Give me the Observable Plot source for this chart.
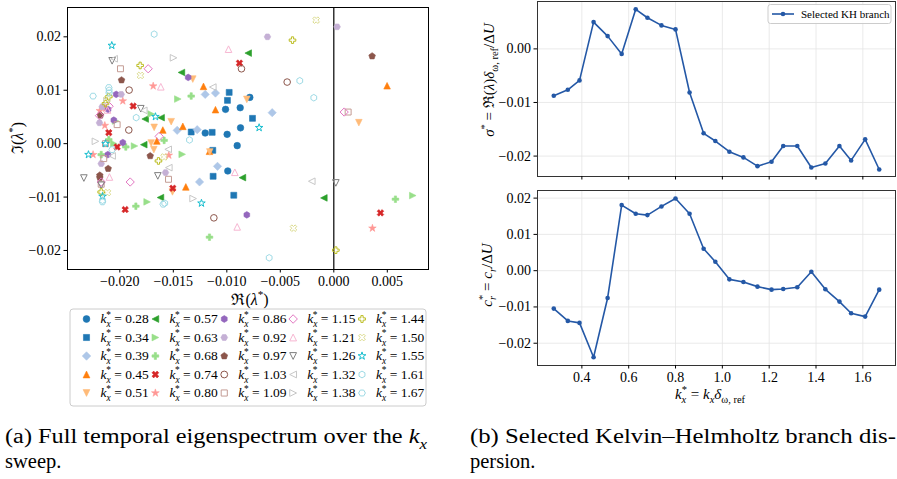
<!DOCTYPE html>
<html><head><meta charset="utf-8">
<script src="https://cdn.jsdelivr.net/npm/d3@7"></script>
<script src="https://cdn.jsdelivr.net/npm/@observablehq/plot@0.6"></script>
<style>
html,body{margin:0;padding:0;background:#fff;}
body{width:897px;height:479px;overflow:hidden;position:relative;font-family:"Liberation Serif",serif;}
.panel{position:absolute;}
.panel svg{display:block;overflow:visible;}
</style></head><body>
<div id="a" class="panel" style="left:0;top:0"></div>
<div id="leg" class="panel" style="left:69px;top:308px"></div>
<div id="b1" class="panel" style="left:440px;top:0"></div>
<div id="b2" class="panel" style="left:440px;top:185px"></div>
<svg id="cap" class="panel" style="left:0;top:410px" width="897" height="69"></svg>
<script>
// ---------- data ----------
const kx = [0.28,0.34,0.39,0.45,0.51,0.57,0.63,0.68,0.74,0.80,0.86,0.92,0.97,1.03,1.09,1.15,1.21,1.26,1.32,1.38,1.44,1.50,1.55,1.61,1.67];
const kxLabels = ["0.28","0.34","0.39","0.45","0.51","0.57","0.63","0.68","0.74","0.80","0.86","0.92","0.97","1.03","1.09","1.15","1.21","1.26","1.32","1.38","1.44","1.50","1.55","1.61","1.67"];
const markerCodes = ["o","s","D","^","v","<",">","P","X","*","h","H","p","o","s","D","^","v","<",">","P","X","*","h","H"];
const filledCount = 13;
const colors = ["#1f77b4","#1f77b4","#aec7e8","#ff7f0e","#ffbb78","#2ca02c","#98df8a","#98df8a","#d62728","#ff9896","#9467bd","#c5b0d5","#8c564b","#8c564b","#c49c94","#e377c2","#f7b6d2","#7f7f7f","#c7c7c7","#c7c7c7","#bcbd22","#dbdb8d","#17becf","#9edae5","#9edae5"];

// eigenvalues [Re, Im] per kx
const s028 = [[-0.00785,0.00866],[-0.01012,0.00642],[-0.00875,0.00673],[-0.01202,0.00199],[-0.00997,0.00174],[-0.00872,0.00296],[-0.00903,-0.00037],[-0.00991,-0.00511]];
const s034 = [[-0.00978,0.0096],[-0.00994,0.0081],[-0.0076,0.00474],[-0.01333,0.00218],[-0.01137,0.00212],[-0.01131,-0.00125],[-0.01128,-0.00611],[-0.00935,-0.00966]];
const s039 = [[-0.01202,0.00922],[-0.01106,0.00947],[-0.00576,0.0058],[-0.01464,0.00249],[-0.01277,0.00262],[-0.01087,-0.00424],[-0.01255,-0.00717]];
const s045 = [[-0.01218,0.01072],[-0.01106,0.00636],[-0.01411,0.00324],[-0.01598,0.00255],[-0.01654,0.0005],[-0.01162,-0.00143],[-0.01383,-0.0081],[0.00498,0.01084]];
const s051 = [[-0.01318,0.01209],[-0.00813,0.00829],[-0.0152,0.00411],[-0.01679,0.00305],[-0.01707,0.00012],[-0.01682,-0.00112],[-0.01508,-0.00903],[0.00234,0.00393],[-0.01159,-0.00155]];
const s057 = [[-0.008,0.01695],[-0.01424,0.01333],[-0.01763,0.00461],[-0.01614,0.00486],[-0.01776,-0.00019],[-0.00854,-0.00636],[-0.0162,-0.01009],[-0.00093,-0.01016]];
const s063 = [[-0.01458,0.00835],[-0.01707,0.00555],[-0.0204,0.00424],[-0.01863,-0.00044],[-0.01417,-0.002],[-0.01745,-0.0109],[0.00738,-0.00972],[-0.02056,0.0]];
const s068 = [[-0.01333,0.00891],[-0.01586,0.00062],[-0.01944,-0.00062],[-0.0185,-0.01171],[-0.01162,-0.01751],[0.00576,-0.0104],[-0.02174,-0.00206],[-0.02103,0.00075]];
const s074 = [[-0.00882,0.01508],[-0.01875,0.00704],[-0.02103,0.00206],[-0.02025,-0.00063],[-0.0195,-0.01234],[-0.01505,-0.00835],[0.00436,-0.01296]];
const s080 = [[-0.01688,0.01078],[-0.01972,0.00798],[-0.0214,0.0034],[-0.02187,0.00617],[-0.0225,-0.00206],[-0.01542,-0.00218],[0.00361,-0.01583],[-0.02134,0.0066]];
const s086 = [[-0.01361,0.0124],[-0.02034,0.00923],[-0.02056,0.0044],[-0.01972,0.0002],[-0.02112,-0.00206],[-0.00813,-0.01333],[-0.0211,0.0064]];
const s092 = [[-0.0062,0.02],[0.00031,0.02187],[-0.01987,0.00923],[-0.0219,0.0039],[-0.02174,-0.00375],[-0.01573,-0.00542],[-0.02165,0.0069]];
const s097 = [[-0.01984,0.0119],[0.00358,0.01639],[-0.02181,0.0053],[-0.01716,-0.0023],[-0.02109,-0.00468],[-0.02187,-0.00593],[-0.02187,-0.00637]];
const s103 = [[-0.00863,0.01402],[-0.00436,0.01153],[-0.01913,0.01003],[-0.01916,0.00255],[-0.01121,-0.01389]];
const s109 = [[-0.01994,0.01402],[-0.02025,0.00356],[0.00134,0.00592],[-0.01545,-0.00667],[-0.0215,-0.0028],[-0.02134,0.0],[-0.02174,-0.0076]];
const s115 = [[-0.01735,0.01402],[0.00097,0.00592],[-0.01903,-0.00718],[-0.01632,0.00137],[-0.0219,0.00523],[-0.021,0.007],[-0.02174,-0.00718]];
const s121 = [[-0.00984,0.01769],[-0.01617,0.01065],[-0.00925,-0.00536],[-0.00903,-0.01558],[-0.02097,-0.00624],[-0.02115,0.0063]];
const s126 = [[-0.02072,0.01551],[-0.01804,0.00654],[-0.02336,-0.00644],[-0.01645,-0.00604],[0.00019,-0.00735],[-0.02174,-0.00779]];
const s132 = [[-0.02053,0.01589],[-0.01131,0.01059],[-0.01548,-0.00106],[-0.01542,-0.00449],[-0.00206,-0.00704],[-0.02072,-0.0023],[-0.01776,0.00623]];
const s138 = [[-0.01498,0.01607],[-0.02228,0.00044],[-0.01315,-0.01028],[-0.0212,0.008]];
const s144 = [[-0.00386,0.01938],[-0.0181,0.01464],[-0.02134,0.00749],[-0.02103,0.00879],[-0.01639,-0.00324],[0.00019,-0.01994],[-0.02174,-0.00905]];
const s150 = [[-0.00165,0.02312],[-0.01807,0.01277],[-0.01586,-0.00249],[-0.00377,-0.01583],[-0.02115,-0.00916],[-0.0212,0.0083]];
const s155 = [[-0.02075,0.01838],[-0.01667,0.00505],[-0.00698,0.00299],[-0.02293,-0.00206],[-0.01237,-0.01115],[-0.02134,0.0],[-0.02162,-0.00987]];
const s161 = [[-0.01679,0.0205],[-0.00318,0.01178],[-0.00187,0.0086],[-0.01847,0.00487],[-0.01349,0.00069],[-0.021,0.01],[-0.00604,-0.02137],[-0.0158,-0.01115],[-0.02162,-0.01059]];
const s167 = [[-0.0225,0.0089],[-0.02103,0.0105],[-0.0210,0.0095],[-0.02072,-0.00112],[-0.01595,-0.01134],[-0.02162,-0.0109]];

// selected KH branch
const sigma = [-0.00875,-0.00763,-0.00588,0.0050,0.00238,-0.00094,0.00738,0.00581,0.00438,0.00363,-0.00813,-0.01575,-0.01719,-0.01919,-0.02025,-0.02188,-0.02106,-0.01813,-0.01813,-0.02213,-0.02138,-0.01813,-0.02081,-0.01688,-0.0225];
const cr = [-0.01046,-0.01385,-0.0144,-0.02385,-0.00752,0.01807,0.01569,0.01532,0.01771,0.01991,0.01569,0.00606,0.00248,-0.00239,-0.00312,-0.0044,-0.00523,-0.00505,-0.00459,-0.00028,-0.00514,-0.00853,-0.01174,-0.01266,-0.00523];

// ticks
const xTicksA = [-0.02,-0.015,-0.01,-0.005,0,0.005];
const yTicksA = [-0.02,-0.01,0,0.01,0.02];
const kxTicks = [0.4,0.6,0.8,1.0,1.2,1.4,1.6];
const sigmaTicks = [-0.02,-0.01,0];
const crTicks = [-0.02,-0.01,0,0.01,0.02];

const spectra = [s028,s034,s039,s045,s051,s057,s063,s068,s074,s080,s086,s092,s097,s103,s109,s115,s121,s126,s132,s138,s144,s150,s155,s161,s167];

// ---------- symbols ----------
function polySym(pts){return {draw(ctx,size){const r=Math.sqrt(size/Math.PI);pts.forEach(([x,y],i)=>i?ctx.lineTo(x*r,y*r):ctx.moveTo(x*r,y*r));ctx.closePath();}};}
function ngon(n,rot,s=1){return d3.range(n).map(i=>{const a=rot+i*2*Math.PI/n;return [s*Math.sin(a),-s*Math.cos(a)];});}
function starPts(s){return d3.range(10).map(i=>{const a=i*Math.PI/5;const rr=(i%2?0.382:1)*s;return [rr*Math.sin(a),-rr*Math.cos(a)];});}
const SYM = {
  "o": d3.symbolCircle,
  "s": polySym([[-0.9,-0.9],[0.9,-0.9],[0.9,0.9],[-0.9,0.9]]),
  "D": polySym([[0,-1.25],[1.25,0],[0,1.25],[-1.25,0]]),
  "^": polySym([[0,-1],[1,1],[-1,1]]),
  "v": polySym([[0,1],[1,-1],[-1,-1]]),
  "<": polySym([[-1,0],[1,-1],[1,1]]),
  ">": polySym([[1,0],[-1,1],[-1,-1]]),
  "P": polySym([[-1,-3],[1,-3],[1,-1],[3,-1],[3,1],[1,1],[1,3],[-1,3],[-1,1],[-3,1],[-3,-1],[-1,-1]].map(([x,y])=>[x/3,y/3])),
  "X": polySym([[-1,-2],[0,-1],[1,-2],[2,-1],[1,0],[2,1],[1,2],[0,1],[-1,2],[-2,1],[-1,0],[-2,-1]].map(([x,y])=>[x/2,y/2])),
  "*": polySym(starPts(1.2)),
  "h": polySym(ngon(6,0)),
  "H": polySym(ngon(6,Math.PI/6)),
  "p": polySym(ngon(5,0,1.05))
};
const fillOf = i => i < filledCount ? colors[i] : "none";
const swOf = i => i < filledCount ? 0.6 : 1;

// ---------- rich text helper ----------
function rich(text, parts, size){
  let shift = 0;
  parts.forEach(p=>{
    const ts = text.append("tspan").text(p.t);
    if (p.i) ts.attr("font-style","italic");
    const target = p.sub ? size*0.28 : p.sup ? -size*0.42 : 0;
    if (target !== shift){ ts.attr("dy", target - shift); shift = target; }
    if (p.sub || p.sup) ts.attr("font-size", (size*0.7).toFixed(1));
    if (p.dx) ts.attr("dx", p.dx);
  });
  return text;
}
const FONT = "'Liberation Serif', 'Times New Roman', serif";

// ---------- (a) eigenspectrum ----------
const dotMarks = spectra.map((pts,i)=>Plot.dot(pts,{x:d=>d[0],y:d=>d[1],symbol:SYM[markerCodes[i]],r:3.3,fill:fillOf(i),stroke:colors[i],strokeWidth:swOf(i)}));
const plotA = Plot.plot({
  width:440, height:310, marginLeft:67, marginRight:12, marginTop:7, marginBottom:41,
  style:{fontFamily:FONT, fontSize:"14px", background:"transparent", color:"#000"},
  x:{domain:[-0.02489,0.00885]},
  y:{domain:[-0.02356,0.02549]},
  marks:[
    Plot.ruleX([0],{stroke:"#000",strokeWidth:1.2}),
    ...dotMarks,
    Plot.frame({stroke:"#000",strokeWidth:1}),
    Plot.axisX({ticks:xTicksA,tickFormat:d3.format(".3f"),tickSize:3.5,tickPadding:3,label:null}),
    Plot.axisY({ticks:yTicksA,tickFormat:d3.format(".2f"),tickSize:3.5,tickPadding:3,label:null})
  ]
});
document.getElementById("a").appendChild(plotA);
{
  const svg = d3.select(plotA);
  rich(svg.append("text").attr("x",250).attr("y",305).attr("text-anchor","middle").attr("font-size",16).attr("font-family",FONT),
    [{t:"ℜ("},{t:"λ",i:true},{t:"*",sup:true},{t:")"}],16);
  rich(svg.append("text").attr("transform","translate(23,138) rotate(-90)").attr("text-anchor","middle").attr("font-size",16).attr("font-family",FONT),
    [{t:"ℑ("},{t:"λ",i:true},{t:"*",sup:true},{t:")"}],16);
}

// ---------- legend for (a) ----------
const legendRows = kx.map((k,i)=>({i, col:Math.floor(i/5), row:i%5, label:kxLabels[i]}));
const legMarks = legendRows.map(d=>Plot.dot([d],{x:"col",y:"row",symbol:SYM[markerCodes[d.i]],r:3.4,fill:fillOf(d.i),stroke:colors[d.i],strokeWidth:swOf(d.i)}));
const plotLeg = Plot.plot({
  width:357, height:98, margin:0,
  style:{fontFamily:FONT, fontSize:"13px", background:"transparent", color:"#000"},
  x:{domain:[0,4], range:[17,292.5], axis:null},
  y:{domain:[0,4], range:[10.5,84.5], axis:null},
  marks:[
    Plot.frame({stroke:"#cccccc", strokeWidth:1, rx:3, inset:0.5}),
    ...legMarks,
    Plot.text(legendRows,{x:"col",y:"row",text:"label",dx:14,textAnchor:"start",fontSize:13.5,className:"legtxt"})
  ]
});
document.getElementById("leg").appendChild(plotLeg);
d3.select(plotLeg).selectAll(".legtxt text").each(function(){
  const t = d3.select(this); const v = t.text(); t.text("");
  rich(t,[{t:"k",i:true},{t:"x",i:true,sub:true},{t:"*",sup:true,dx:-4.5},{t:" = "+v}],13.5);
});

// ---------- (b) top: growth rate ----------
const BLUE = "#2458a6";
const branch = kx.map((k,i)=>({k, s:sigma[i], c:cr[i]}));
const plotB1 = Plot.plot({
  width:457, height:185, marginLeft:97, marginRight:2, marginTop:1, marginBottom:9,
  style:{fontFamily:FONT, fontSize:"14px", background:"transparent", color:"#000"},
  x:{domain:[0.2105,1.7395]},
  y:{domain:[-0.02381,0.00884]},
  marks:[
    Plot.gridX({ticks:kxTicks, stroke:"#e4e4e4", strokeOpacity:1, strokeWidth:0.8}),
    Plot.gridY({ticks:sigmaTicks, stroke:"#e4e4e4", strokeOpacity:1, strokeWidth:0.8}),
    Plot.line(branch,{x:"k",y:"s",stroke:BLUE,strokeWidth:1.6}),
    Plot.dot(branch,{x:"k",y:"s",r:2.3,fill:BLUE}),
    Plot.frame({stroke:"#333",strokeWidth:1}),
    Plot.axisX({ticks:kxTicks,tickFormat:()=>"",tickSize:3.5,label:null}),
    Plot.axisY({ticks:sigmaTicks,tickFormat:d3.format(".2f"),tickSize:3.5,tickPadding:3,label:null})
  ]
});
document.getElementById("b1").appendChild(plotB1);
{
  const svg = d3.select(plotB1);
  rich(svg.append("text").attr("transform","translate(54,80) rotate(-90)").attr("text-anchor","middle").attr("font-size",15).attr("font-family",FONT),
    [{t:"σ",i:true},{t:"*",sup:true},{t:" = ℜ("},{t:"λ",i:true},{t:")"},{t:"δ",i:true},{t:"ω, ref",sub:true,i:false},{t:"/Δ"},{t:"U",i:true}],15);
  const g = svg.append("g").attr("text-anchor","start");
  g.append("rect").attr("x",328).attr("y",4.5).attr("width",123).attr("height",19).attr("rx",2.5).attr("fill","#fff").attr("fill-opacity",0.85).attr("stroke","#cccccc");
  g.append("line").attr("x1",332).attr("x2",354).attr("y1",14).attr("y2",14).attr("stroke",BLUE).attr("stroke-width",1.6);
  g.append("circle").attr("cx",343).attr("cy",14).attr("r",2.3).attr("fill",BLUE);
  g.append("text").attr("x",361).attr("y",18).attr("text-anchor","start").attr("font-size",11).attr("font-family",FONT).text("Selected KH branch");
}

// ---------- (b) bottom: phase speed ----------
const plotB2 = Plot.plot({
  width:457, height:225, marginLeft:97, marginRight:2, marginTop:5, marginBottom:45,
  style:{fontFamily:FONT, fontSize:"14px", background:"transparent", color:"#000"},
  x:{domain:[0.2105,1.7395]},
  y:{domain:[-0.02614,0.0221]},
  marks:[
    Plot.gridX({ticks:kxTicks, stroke:"#e4e4e4", strokeOpacity:1, strokeWidth:0.8}),
    Plot.gridY({ticks:crTicks, stroke:"#e4e4e4", strokeOpacity:1, strokeWidth:0.8}),
    Plot.line(branch,{x:"k",y:"c",stroke:BLUE,strokeWidth:1.6}),
    Plot.dot(branch,{x:"k",y:"c",r:2.3,fill:BLUE}),
    Plot.frame({stroke:"#333",strokeWidth:1}),
    Plot.axisX({ticks:kxTicks,tickFormat:d3.format(".1f"),tickSize:3.5,tickPadding:3,label:null}),
    Plot.axisY({ticks:crTicks,tickFormat:d3.format(".2f"),tickSize:3.5,tickPadding:3,label:null})
  ]
});
document.getElementById("b2").appendChild(plotB2);
{
  const svg = d3.select(plotB2);
  rich(svg.append("text").attr("transform","translate(52,90) rotate(-90)").attr("text-anchor","middle").attr("font-size",15).attr("font-family",FONT),
    [{t:"c",i:true},{t:"r",i:true,sub:true},{t:"*",sup:true,dx:-4},{t:" = "},{t:"c",i:true},{t:"r",i:true,sub:true},{t:"/Δ"},{t:"U",i:true}],15);
  rich(svg.append("text").attr("x",270).attr("y",214).attr("text-anchor","middle").attr("font-size",15).attr("font-family",FONT),
    [{t:"k",i:true},{t:"x",i:true,sub:true},{t:"*",sup:true,dx:-4.5},{t:" = "},{t:"k",i:true},{t:"x",i:true,sub:true},{t:"δ",i:true},{t:"ω, ref",sub:true}],15);
}

// ---------- captions ----------
{
  const cap = d3.select("#cap").attr("font-family",FONT).attr("font-size",20.5);
  rich(cap.append("text").attr("x",5).attr("y",33).attr("textLength",422).attr("lengthAdjust","spacingAndGlyphs"),
    [{t:"(a) Full temporal eigenspectrum over the "},{t:"k",i:true},{t:"x",i:true,sub:true}],20.5);
  cap.append("text").attr("x",5).attr("y",58).text("sweep.");
  cap.append("text").attr("x",470).attr("y",33).attr("textLength",426).attr("lengthAdjust","spacingAndGlyphs").text("(b) Selected Kelvin–Helmholtz branch dis-");
  cap.append("text").attr("x",470).attr("y",58).text("persion.");
}
</script>
</body></html>
